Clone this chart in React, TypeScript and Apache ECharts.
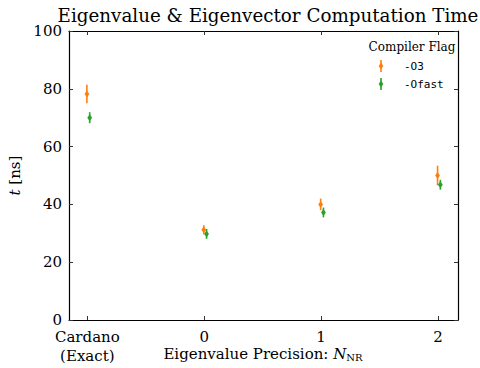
import React, { useEffect, useRef } from "react";
import * as echarts from "echarts";

// x positions: 0 = Cardano (Exact), 1..3 = N_NR of 0, 1, 2
const categories = ["Cardano\n(Exact)", "0", "1", "2"];
const xPositions = [0, 1, 2, 3];
const yTicks = [0, 20, 40, 60, 80, 100];

const flags = ["-O3", "-Ofast"];
const colors = ["#ff7f0e", "#2ca02c"];
const xShift = [-0.004, 0.02];

const meanO3 = [78.2, 31.2, 40.0, 50.0];
const errO3 = [3.2, 1.6, 2.0, 3.4];
const meanOfast = [70.0, 29.8, 37.2, 46.8];
const errOfast = [1.9, 1.7, 1.7, 1.7];

const means = [meanO3, meanOfast];
const errs = [errO3, errOfast];

const SERIF = "DejaVu Serif";
const MONO = "DejaVu Sans Mono";

function errorBarSeries(idx: number) {
  const color = colors[idx];
  const shift = xShift[idx];
  return {
    type: "custom",
    name: flags[idx],
    xAxisIndex: 0,
    yAxisIndex: 0,
    data: xPositions.map((x, i) => [x, means[idx][i], errs[idx][i]]),
    renderItem: (params: any, api: any) => {
      const x = api.value(0) + shift;
      const y = api.value(1);
      const e = api.value(2);
      const top = api.coord([x, y + e]);
      const bot = api.coord([x, y - e]);
      const c = api.coord([x, y]);
      return {
        type: "group",
        children: [
          {
            type: "line",
            shape: { x1: top[0], y1: top[1], x2: bot[0], y2: bot[1] },
            style: { stroke: color, lineWidth: 1.6 },
          },
          {
            type: "polygon",
            shape: {
              points: [
                [c[0], c[1] - 3.5],
                [c[0] + 2.4, c[1]],
                [c[0], c[1] + 3.5],
                [c[0] - 2.4, c[1]],
              ],
            },
            style: { fill: color },
          },
        ],
      };
    },
  };
}

export default function App() {
  const ref = useRef<HTMLDivElement>(null);
  useEffect(() => {
    document.body.style.margin = "0";
    const chart = echarts.init(ref.current!, undefined, { renderer: "svg" });
    const tickStyle = { inside: true, length: 4, lineStyle: { color: "#333", width: 1 } };
    const frameLine = { show: true, onZero: false, lineStyle: { color: "#000", width: 1.2 } };
    const legendX = 381;
    const legendRows = [66, 84];
    chart.setOption({
      animation: false,
      backgroundColor: "#fff",
      title: {
        text: "Eigenvalue & Eigenvector Computation Time",
        left: 263,
        textAlign: "center",
        top: 1,
        textStyle: { fontFamily: SERIF, fontSize: 18.3, fontWeight: "normal", color: "#000" },
      },
      grid: { left: 69, right: 22, top: 31, bottom: 48, outerBoundsMode: "none", containLabel: false },
      xAxis: [
        {
          type: "value",
          min: -0.157,
          max: 3.171,
          axisLine: frameLine,
          axisTick: { ...tickStyle, customValues: xPositions },
          splitLine: { show: false },
          axisLabel: {
            customValues: xPositions,
            formatter: (v: number) => categories[Math.round(v)] ?? "",
            fontFamily: SERIF,
            fontSize: 15,
            color: "#000",
            margin: 7,
            lineHeight: 19,
            verticalAlign: "top",
          },
        },
        {
          type: "value",
          position: "top",
          min: -0.157,
          max: 3.171,
          axisLine: frameLine,
          axisTick: { ...tickStyle, customValues: xPositions },
          axisLabel: { show: false },
          splitLine: { show: false },
        },
      ],
      yAxis: [
        {
          type: "value",
          min: 0,
          max: 100,
          interval: 20,
          axisLine: frameLine,
          axisTick: { show: true, ...tickStyle },
          splitLine: { show: false },
          axisLabel: {
            fontFamily: SERIF,
            fontSize: 15,
            color: "#000",
            margin: 7,
            formatter: (v: number) => (yTicks.includes(v) ? String(v) : ""),
          },
          name: "{i|t} [ns]",
          nameLocation: "middle",
          nameGap: 39,
          nameRotate: 90,
          nameTextStyle: {
            fontFamily: SERIF,
            fontSize: 15,
            color: "#000",
            rich: {
              i: { fontFamily: SERIF, fontSize: 15, fontStyle: "italic", color: "#000" },
            },
          },
        },
        {
          type: "value",
          position: "right",
          min: 0,
          max: 100,
          interval: 20,
          axisLine: frameLine,
          axisTick: { show: true, ...tickStyle },
          axisLabel: { show: false },
          splitLine: { show: false },
        },
      ],
      series: [errorBarSeries(0), errorBarSeries(1)],
      graphic: [
        {
          type: "text",
          x: 263,
          y: 354,
          style: {
            text: "{n|Eigenvalue Precision: }{i|N}{s|NR}",
            align: "center",
            verticalAlign: "middle",
            rich: {
              n: { fontFamily: SERIF, fontSize: 15, fill: "#000" },
              i: { fontFamily: SERIF, fontSize: 15, fontStyle: "italic", fill: "#000" },
              s: { fontFamily: SERIF, fontSize: 10, fill: "#000", padding: [7, 0, 0, 0] },
            },
          },
        },
        {
          type: "text",
          x: 412,
          y: 47,
          style: {
            text: "Compiler Flag",
            font: `12px ${SERIF}`,
            fill: "#000",
            align: "center",
            verticalAlign: "middle",
          },
        },
        ...flags.flatMap((f, i) => [
          {
            type: "line",
            shape: { x1: legendX, y1: legendRows[i] - 6, x2: legendX, y2: legendRows[i] + 6 },
            style: { stroke: colors[i], lineWidth: 1.6 },
          },
          {
            type: "polygon",
            shape: {
              points: [
                [legendX, legendRows[i] - 3.5],
                [legendX + 2.4, legendRows[i]],
                [legendX, legendRows[i] + 3.5],
                [legendX - 2.4, legendRows[i]],
              ],
            },
            style: { fill: colors[i] },
          },
          {
            type: "text",
            x: 404,
            y: legendRows[i],
            style: {
              text: f,
              font: `11px ${MONO}`,
              fill: "#000",
              align: "left",
              verticalAlign: "middle",
            },
          },
        ]),
      ],
    });
    return () => chart.dispose();
  }, []);
  return <div ref={ref} style={{ width: 480, height: 368 }} />;
}
